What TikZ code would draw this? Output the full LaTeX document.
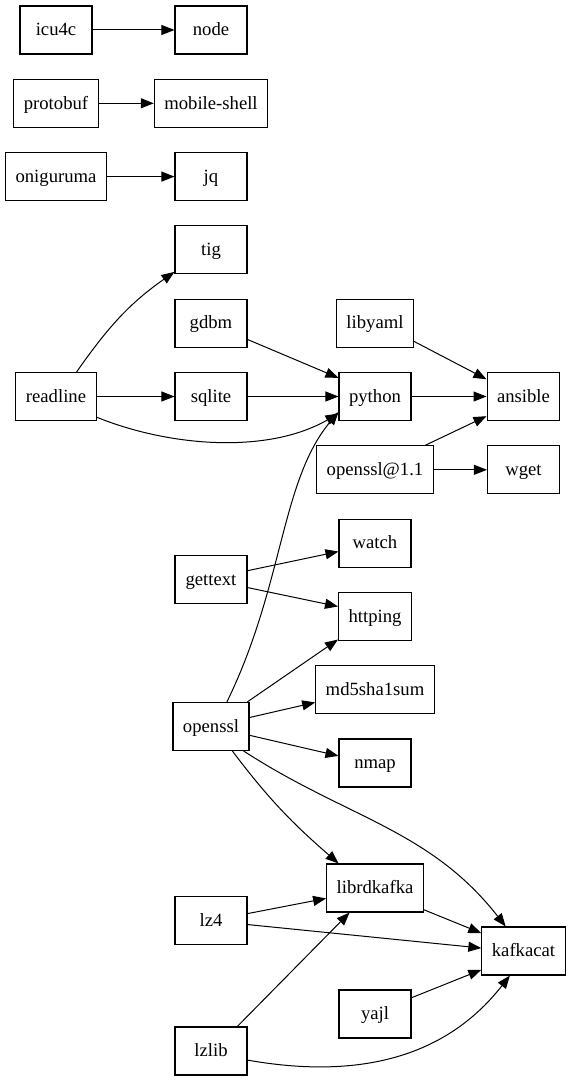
\documentclass[tikz,border=0pt]{standalone}
\usepackage{fontspec}
\setmainfont{Liberation Serif}
\usetikzlibrary{arrows.meta,positioning}
\tikzstyle{pkg} = [rectangle, minimum width=72pt, minimum height=48pt, inner xsep=10pt, text height=13.4pt, text depth=2pt, text centered, draw=black, line width=1.1pt, font=\fontsize{18.67pt}{22pt}\selectfont]

\begin{document}
\begin{tikzpicture}[x=1pt,y=-1pt,node distance=73.3pt]
        \tikzset{depptr/.style={draw, line width=1pt, -{Triangle[length=13pt,width=10pt]}}}
        \useasboundingbox (0,0) rectangle (571,1081);

        \node (nodejs) [pkg] at (211,30) {node};
        \node (mobileshell) [pkg, below of=nodejs] {mobile-shell};
        \node (jq) [pkg, below of=mobileshell] {jq};
        \node (tig) [pkg, below of=jq] {tig};
        \node (gdbm) [pkg, below of=tig] {gdbm};
        \node (sqlite) [pkg, below of=gdbm] {sqlite};
        \node (gettext) [pkg, below of=sqlite, yshift=-110pt] {gettext};
        \node (openssl) [pkg, below of=gettext, yshift=-73.3pt] {openssl};
        \node (lz4) [pkg, below of=openssl, yshift=-121pt] {lz4};
        \node (lzlib) [pkg, below of=lz4, yshift=-57pt] {lzlib};

        \node (icu4c) [pkg, left of=nodejs, xshift=-81.7pt] {icu4c};
        \node (protobuf) [pkg, left of=mobileshell, xshift=-81.7pt] {protobuf};
        \node (oniguruma) [pkg, left of=jq, xshift=-81.7pt] {oniguruma};
        \node (readline) [pkg, left of=sqlite, xshift=-81.7pt] {readline};

        \node (python) [pkg, right of=sqlite, xshift=90.7pt] {python};
        \node (libyaml) [pkg, above of=python] {libyaml};
        \node (openssl11) [pkg, below of=python] {openssl@1.1};
        \node (watch) [pkg, below of=openssl11] {watch};
        \node (httping) [pkg, below of=watch] {httping};
        \node (md5sha1sum) [pkg, below of=httping] {md5sha1sum};
        \node (nmap) [pkg, below of=md5sha1sum] {nmap};
        \node (librdkafka) [pkg, below of=nmap, yshift=-51.7pt] {librdkafka};
        \node (yajl) [pkg, below of=librdkafka, yshift=-52.7pt] {yajl};

        \node (ansible) [pkg, right of=python, xshift=75.2pt] {ansible};
        \node (wget) [pkg, below of=ansible] {wget};
        \node (kafkacat) [pkg, right of=librdkafka, xshift=75.2pt, yshift=-63pt] {kafkacat};

        \draw [depptr] (icu4c) -- (nodejs);
        \draw [depptr] (protobuf) -- (mobileshell);
        \draw [depptr] (oniguruma) -- (jq);

        \draw [depptr] (readline.50) to[out=55,in=215] (tig.211);
        \draw [depptr] (readline) -- (sqlite);
        \draw [depptr] (readline.-27) to[out=-22,in=210,looseness=0.85] (python.205);
        \draw [depptr] (gdbm.-24) -- (python.153);
        \draw [depptr] (sqlite) -- (python);
        \draw [depptr] (openssl.57) .. controls +(64:130pt) and +(230:90pt) .. (python.203);

        \draw [depptr] (libyaml.-25) -- (ansible.155);
        \draw [depptr] (python) -- (ansible);
        \draw [depptr] (openssl11.26) -- (ansible.208);
        \draw [depptr] (openssl11) -- (wget);

        \draw [depptr] (gettext.14) -- (watch.193);
        \draw [depptr] (gettext.-12) -- (httping.165);
        \draw [depptr] (openssl.34) -- (httping.212);
        \draw [depptr] (openssl.13) -- (md5sha1sum.192);
        \draw [depptr] (openssl.-13) -- (nmap.169);
        \draw [depptr] (openssl.-49) to[out=-53,in=139] (librdkafka.146);
        \draw [depptr] (openssl.-37) to[out=-33,in=128] (kafkacat.126);

        \draw [depptr] (lz4.11) -- (librdkafka.192);
        \draw [depptr] (lz4.-6) -- (kafkacat.176);
        \draw [depptr] (lzlib.43) -- (librdkafka.224);
        \draw [depptr] (librdkafka.-24) -- (kafkacat.157);
        \draw [depptr] (yajl.24) -- (kafkacat.204);
        \draw [depptr] (lzlib.-14) to[out=-10,in=-128] (kafkacat.241);
    \end{tikzpicture}
\end{document}
